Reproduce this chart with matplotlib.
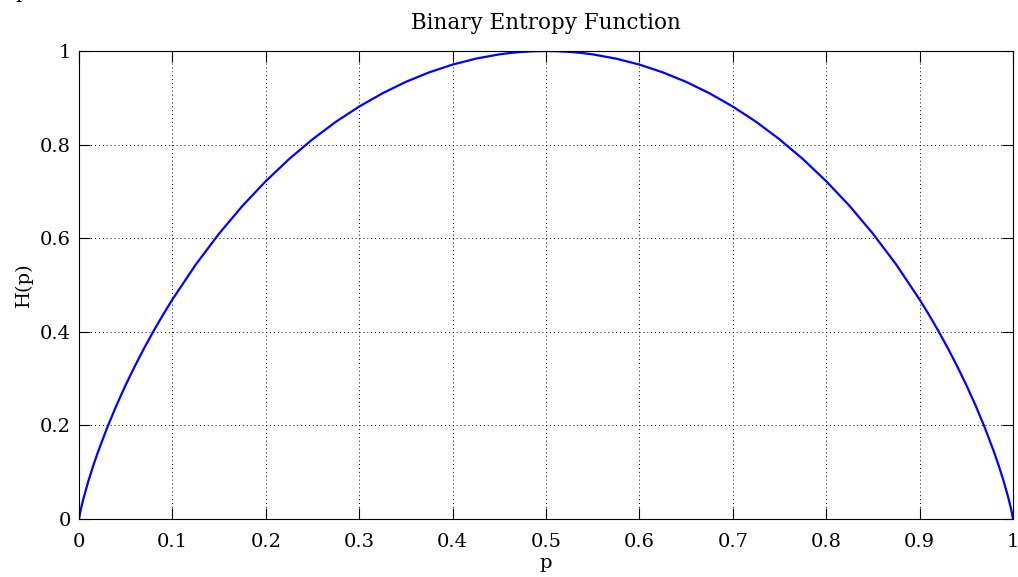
import matplotlib
matplotlib.use("Agg")
import matplotlib.pyplot as plt

# Values
p_values = [0.0, 0.001, 0.0025, 0.005, 0.01, 0.015, 0.02, 0.03, 0.04, 0.05, 0.06, 0.07,
            0.08, 0.09, 0.10, 0.125, 0.15, 0.175, 0.20, 0.225, 0.25, 0.275, 0.30,
            0.325, 0.35, 0.375, 0.40, 0.425, 0.45, 0.4625, 0.475, 0.4875, 0.50,
            0.5125, 0.525, 0.5375, 0.55, 0.575, 0.60, 0.625, 0.65, 0.675, 0.70, 0.725, 0.75,
            0.775, 0.80, 0.825, 0.85, 0.875, 0.90, 0.91, 0.92, 0.93, 0.94,
            0.95, 0.96, 0.97, 0.98, 0.985, 0.99, 0.995, 0.9975, 0.999, 1.0]
h_values = [0.0, 0.0114, 0.0252, 0.0454, 0.0808, 0.1124, 0.1414, 0.1944, 0.2423, 0.2864, 0.3274, 0.3659,
            0.4022, 0.4365, 0.4690, 0.5436, 0.6098, 0.6690, 0.7219, 0.7692, 0.8113, 0.8487, 0.8813,
            0.9097, 0.9341, 0.9544, 0.9710, 0.9837, 0.9928, 0.9960, 0.9982, 0.9995, 1.0,
            0.9995, 0.9982, 0.9960, 0.9928, 0.9837, 0.9710, 0.9544, 0.9341, 0.9097, 0.8813, 0.8487, 0.8113,
            0.7692, 0.7219, 0.6690, 0.6098, 0.5436, 0.4690, 0.4365, 0.4022, 0.3659, 0.3274,
            0.2864, 0.2423, 0.1944, 0.1414, 0.1124, 0.0808, 0.0454, 0.0252, 0.0114, 0.0]

x_ticks = [0, 0.1, 0.2, 0.3, 0.4, 0.5, 0.6, 0.7, 0.8, 0.9, 1]
x_tick_labels = ["0", "0.1", "0.2", "0.3", "0.4", "0.5", "0.6", "0.7", "0.8", "0.9", "1"]
y_ticks = [0, 0.2, 0.4, 0.6, 0.8, 1]
y_tick_labels = ["0", "0.2", "0.4", "0.6", "0.8", "1"]

plt.rcParams['font.family'] = ['DejaVu Serif']

fig = plt.figure(figsize=(10.18, 5.77), dpi=100)
ax = fig.add_axes([79/1018, 1 - 519/577, (1013 - 79)/1018, (519 - 51)/577])

ax.plot(p_values, h_values, color=(0, 0, 1), linewidth=1.6)
ax.set_xlim(0, 1)
ax.set_ylim(0, 1)
ax.set_xticks(x_ticks)
ax.set_xticklabels(x_tick_labels)
ax.set_yticks(y_ticks)
ax.set_yticklabels(y_tick_labels)
ax.tick_params(direction='in', length=8, width=0.8, labelsize=14, top=True, right=True)
ax.tick_params(axis='x', pad=10)
ax.tick_params(axis='y', pad=6)
ax.grid(True, linestyle=(0, (1, 3)), color='black', linewidth=0.7)
for s in ax.spines.values():
    s.set_linewidth(0.8)
ax.set_xlabel('p', fontsize=14, labelpad=2)
ax.set_ylabel('H(p)', fontsize=14, labelpad=5)
ax.set_title('Binary Entropy Function', fontsize=15.5, pad=16)

fig.text(15/1018, 1.012, 'p', fontsize=14, ha='left', va='center')

fig.savefig('out.png', dpi=100)
